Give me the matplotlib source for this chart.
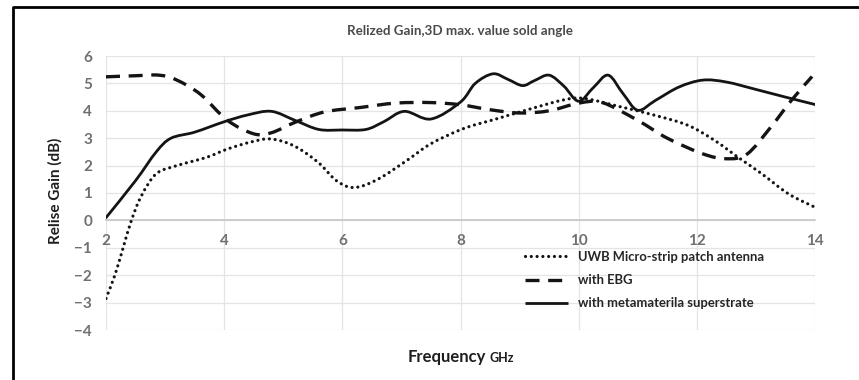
import numpy as np
import matplotlib
matplotlib.use("Agg")
import matplotlib.pyplot as plt
from matplotlib.path import Path
from matplotlib.patches import PathPatch
from matplotlib.lines import Line2D

plt.rcParams['font.family'] = ['Lato', 'DejaVu Sans']

# frequency (GHz) / realised gain (dB) for each antenna
freq_uwb = [2.0, 2.15, 2.29, 2.43, 2.6, 2.85, 3.2, 3.7, 4.05, 4.45, 4.8, 5.2, 5.6, 5.9,
            6.2, 6.6, 7.1, 7.5, 8.05, 8.6, 9.2, 9.75, 10.1, 10.7, 11.3, 11.85, 12.3,
            12.7, 13.1, 13.55, 14.0]
gain_uwb = [-2.85, -2.0, -1.0, 0.0, 0.9, 1.7, 2.0, 2.3, 2.6, 2.86, 2.97, 2.7, 2.1, 1.45,
            1.2, 1.5, 2.2, 2.8, 3.35, 3.7, 4.08, 4.4, 4.45, 4.15, 3.83, 3.47, 2.92,
            2.3, 1.7, 0.97, 0.48]

freq_ebg = [2.0, 2.5, 2.9, 3.2, 3.6, 4.05, 4.5, 4.8, 5.2, 5.7, 6.3, 6.9, 7.5, 8.0,
            8.5, 9.0, 9.5, 10.0, 10.4, 11.0, 11.5, 12.1, 12.5, 12.85, 13.25, 13.6, 13.95]
gain_ebg = [5.24, 5.28, 5.3, 5.12, 4.6, 3.66, 3.16, 3.2, 3.58, 3.96, 4.12, 4.28, 4.3, 4.22,
            4.04, 3.92, 4.0, 4.28, 4.3, 3.65, 3.0, 2.43, 2.25, 2.42, 3.4, 4.38, 5.25]

freq_meta = [2.0, 2.5, 2.85, 3.1, 3.5, 4.0, 4.4, 4.8, 5.2, 5.6, 6.0, 6.4, 6.7, 7.05,
             7.5, 8.0, 8.25, 8.55, 8.8, 9.05, 9.25, 9.5, 9.75, 10.0, 10.25, 10.5, 10.75,
             11.0, 11.3, 11.7, 12.1, 12.5, 13.0, 13.5, 14.0]
gain_meta = [0.1, 1.45, 2.5, 3.0, 3.22, 3.6, 3.85, 3.98, 3.65, 3.32, 3.3, 3.32, 3.6, 3.98,
             3.7, 4.32, 5.0, 5.35, 5.15, 4.92, 5.1, 5.3, 4.9, 4.35, 4.85, 5.3, 4.63,
             4.02, 4.38, 4.87, 5.12, 5.05, 4.78, 4.5, 4.23]

labels = ["UWB Micro-strip patch antenna", "with EBG", "with metamaterila superstrate"]
x_ticks = [2, 4, 6, 8, 10, 12, 14]
y_ticks = [-4, -3, -2, -1, 0, 1, 2, 3, 4, 5, 6]

line_col = '#141414'
styles = [
    dict(lw=2.3, ls=(0, (0.01, 1.8)), cap='round'),
    dict(lw=2.4, ls=(0, (4.2, 2.6)), cap='butt'),
    dict(lw=2.0, ls='-', cap='round'),
]


def smooth_path(x, y):
    # Bezier path through the points, like a spreadsheet "smoothed line"
    p = np.column_stack([x, y]).astype(float)
    n = len(p)
    verts = [p[0]]
    codes = [Path.MOVETO]
    for i in range(n - 1):
        p0 = p[i - 1] if i > 0 else p[i]
        p3 = p[i + 2] if i + 2 < n else p[i + 1]
        c1 = p[i] + (p[i + 1] - p0) / 6.0
        c2 = p[i + 1] - (p3 - p[i]) / 6.0
        verts += [c1, c2, p[i + 1]]
        codes += [Path.CURVE4] * 3
    return Path(verts, codes)


fig = plt.figure(figsize=(8.59, 3.8), dpi=100)
ax = fig.add_axes([106 / 859, 1 - 330 / 380, 709 / 859, 274 / 380])
ax.set_xlim(2, 14)
ax.set_ylim(-4, 6)
ax.set_xticks(x_ticks)
ax.set_yticks(y_ticks)

for s in ['top', 'right', 'left']:
    ax.spines[s].set_visible(False)
ax.spines['bottom'].set_position(('data', 0))
ax.spines['bottom'].set_color('#c6c6c6')
ax.spines['bottom'].set_linewidth(1.2)
ax.grid(True, color='#e4e4e4', lw=0.9)
ax.set_axisbelow(True)
ax.tick_params(axis='x', length=0, pad=10, labelsize=11, labelcolor='#707070')
ax.tick_params(axis='y', length=0, pad=10, labelsize=11, labelcolor='#707070')
for t in ax.get_yticklabels() + ax.get_xticklabels():
    t.set_fontweight('bold')

series = [(freq_uwb, gain_uwb), (freq_ebg, gain_ebg), (freq_meta, gain_meta)]
handles = []
for (fx, gy), st, lab in zip(series, styles, labels):
    patch = PathPatch(smooth_path(fx, gy), facecolor='none', edgecolor=line_col,
                      lw=st['lw'], linestyle=st['ls'], capstyle=st['cap'], zorder=3)
    ax.add_patch(patch)
    handles.append(Line2D([], [], color=line_col, lw=st['lw'], linestyle=st['ls'],
                          dash_capstyle=st['cap'], solid_capstyle='butt', label=lab))

leg = fig.legend(handles=handles, loc='upper left', bbox_to_anchor=(525 / 859, 1 - 251 / 380),
                 frameon=False, borderpad=0, borderaxespad=0, handlelength=3.3,
                 handletextpad=0.75, labelspacing=0.85,
                 prop=dict(family=['Lato', 'DejaVu Sans'], weight='bold', size=9.4))
for t in leg.get_texts():
    t.set_color('#262626')

fig.text(460 / 859, 1 - 35 / 380, "Relized Gain,3D max. value sold angle", ha='center',
         va='baseline', fontsize=9.6, fontweight='bold', color='#4a4a4a')
fig.text(55 / 859, 1 - 191 / 380, "Relise Gain (dB)", rotation=90, ha='center', va='center',
         fontsize=11, fontweight='bold', color='#1e1e1e')
fig.text(486 / 859, 1 - 362 / 380, "Frequency", ha='right', va='baseline',
         fontsize=12, fontweight='bold', color='#1e1e1e')
fig.text(490 / 859, 1 - 362 / 380, "GHz", ha='left', va='baseline',
         fontsize=9, fontweight='bold', color='#1e1e1e')

# black frame around the figure
fig.add_artist(Line2D([12.5 / 859, 12.5 / 859, 1.0], [0.0, 1 - 6.5 / 380, 1 - 6.5 / 380],
                      transform=fig.transFigure, color='black', lw=2.0))

fig.savefig("out.png", dpi=100)
